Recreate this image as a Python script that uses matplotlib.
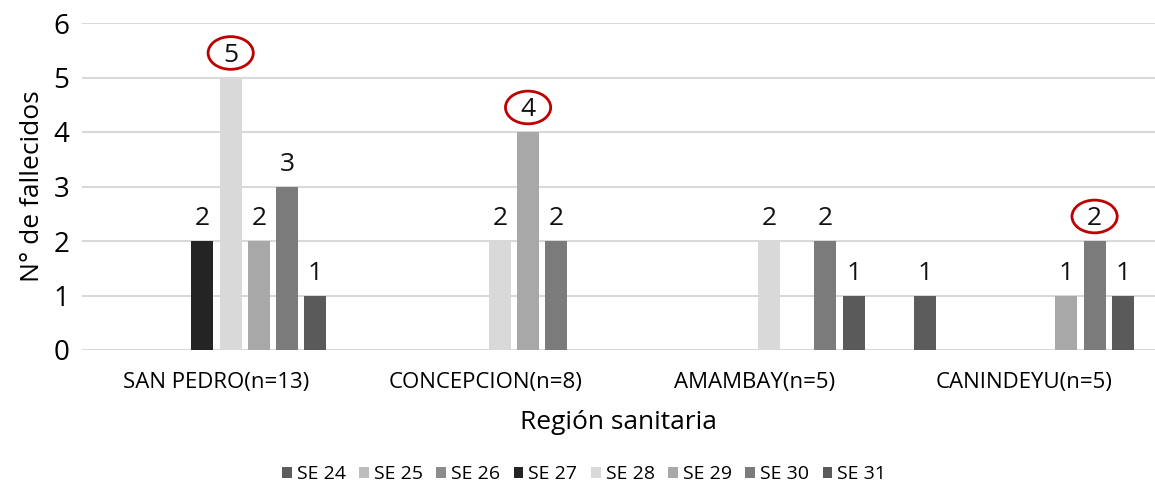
import matplotlib
matplotlib.use('Agg')
import matplotlib.pyplot as plt
from matplotlib.patches import Ellipse
import numpy as np

plt.rcParams['font.family'] = ['Open Sans', 'DejaVu Sans']

# datos
regiones = ['SAN PEDRO(n=13)', 'CONCEPCION(n=8)', 'AMAMBAY(n=5)', 'CANINDEYU(n=5)']
semanas = ['SE 24', 'SE 25', 'SE 26', 'SE 27', 'SE 28', 'SE 29', 'SE 30', 'SE 31']
se24 = [0, 0, 0, 1]
se25 = [0, 0, 0, 0]
se26 = [0, 0, 0, 0]
se27 = [2, 0, 0, 0]
se28 = [5, 2, 2, 0]
se29 = [2, 4, 0, 1]
se30 = [3, 2, 2, 2]
se31 = [1, 0, 1, 1]
series = [se24, se25, se26, se27, se28, se29, se30, se31]
colores = ['#5c5c5c', '#bdbdbd', '#8c8c8c', '#242424',
           '#d9d9d9', '#a8a8a8', '#7b7b7b', '#5a5a5a']
# valores marcados con círculo rojo: (serie, región)
resaltados = [(4, 0), (5, 1), (6, 3)]

fig = plt.figure(figsize=(11.55, 4.84), dpi=100)
ax = fig.add_axes([82 / 1155, 1 - 350 / 484, 1 - 82 / 1155, (350 - 23) / 484])

x = np.arange(len(regiones))
paso = 0.105
ancho = 0.082
for i, (vals, col) in enumerate(zip(series, colores)):
    pos = x + (i - 3.5) * paso
    ax.bar(pos, vals, width=ancho, color=col, label=semanas[i], zorder=3)
    for xp, v in zip(pos, vals):
        if v > 0:
            ax.annotate(str(v), (xp, v), xytext=(0, 7), textcoords='offset points',
                        ha='center', va='bottom', fontsize=19, color='#111111')

for i, r in resaltados:
    xp = x[r] + (i - 3.5) * paso
    v = series[i][r]
    ax.add_patch(Ellipse((xp, v + 0.45), 0.168, 0.6, fill=False,
                         edgecolor='#c00000', lw=2, zorder=4))

ax.set_xlim(-0.5, 3.487)
ax.set_ylim(0, 6)
ax.set_yticks(range(7))
ax.set_xticks(x)
ax.set_xticklabels(regiones, fontsize=16)
ax.tick_params(axis='y', labelsize=20, length=0, pad=9)
ax.tick_params(axis='x', length=0, pad=16)
ax.grid(axis='y', color='#d9d9d9', lw=1.5, zorder=0)
for s in ax.spines.values():
    s.set_visible(False)
ax.set_ylabel('N° de fallecidos', fontsize=19, labelpad=6)
ax.set_xlabel('Región sanitaria', fontsize=19, labelpad=12)

fig.legend(loc='center', bbox_to_anchor=(584 / 1155, 1 - 474 / 484), ncol=8,
           frameon=False, fontsize=14, handlelength=0.5, handleheight=0.5,
           handletextpad=0.25, columnspacing=0.7)

fig.savefig('out.png', dpi=100)
plt.close()
